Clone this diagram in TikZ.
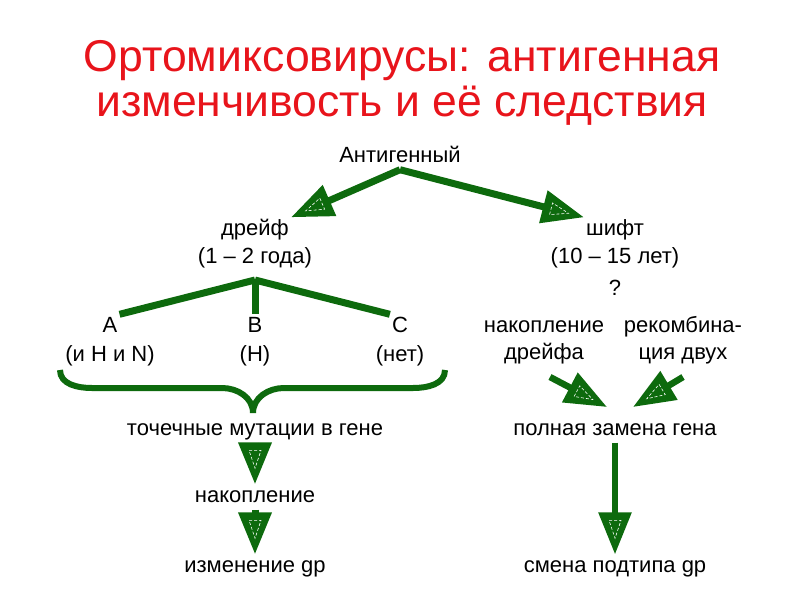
\documentclass[tikz,border=0pt]{standalone}
\usepackage{fontspec}
\setmainfont{Liberation Sans}
\usetikzlibrary{arrows.meta,positioning,decorations.markings}
\definecolor{avRed}{HTML}{E8141B}
\definecolor{avGreen}{HTML}{0D6A0D}
\tikzset{
  label text/.style={font=\fontsize{22}{26}\selectfont,text height=16pt,text depth=5pt,inner sep=2pt},
  title text/.style={font=\fontsize{44.5}{45}\selectfont,text=avRed,align=center,inner sep=0pt},
  green line/.style={draw=avGreen,line width=7pt},
  head arrow/.style={green line,-{Triangle[length=42pt,width=32pt]},
    postaction={decorate,decoration={markings,mark=at position 1 with {
      \draw[-,white,densely dashed,line width=0.6pt] (-34pt,-6pt) -- (-34pt,6pt) -- (-16pt,0pt) -- cycle;}}}}
}
\begin{document}
\begin{tikzpicture}[x=1pt,y=1pt]
\useasboundingbox (0,0) rectangle (800,-600);
\node[title text] (title) at (402,-83) {Ортомиксовирусы: антигенная\\изменчивость и её следствия};
% drift and shift
\node[label text] (ag) at (400,-157) {Антигенный};
\node[label text] (drift) at (255,-230) {дрейф};
\node[label text] (driftyr) at (255,-258) {(1 – 2 года)};
\node[label text] (shift) at (615,-230) {шифт};
\node[label text] (shiftyr) at (615,-258) {(10 – 15 лет)};
\node[label text] (quest) at (615,-290) {?};
\draw[head arrow] (ag.south) -- (drift.north east);
\draw[head arrow] (ag.south) -- (shift.north west);
% virus types
\node[label text] (typeA) at (110,-327) {A};
\node[label text] (typeAan) at (110,-356) {(и H и N)};
\node[label text] (typeB) at (255,-327) {B};
\node[label text] (typeBan) at (255,-356) {(H)};
\node[label text] (typeC) at (400,-327) {C};
\node[label text] (typeCan) at (400,-356) {(нет)};
\coordinate (fork) at (255,-280);
\draw[green line] (fork) -- (typeA.north east);
\draw[green line] (fork) -- (typeB.north);
\draw[green line] (fork) -- (typeC.north west);
% brace
\coordinate (braceL) at (60,-370);
\coordinate (braceTip) at (253,-413);
\coordinate (braceR) at (445,-370);
\draw[green line,line width=6pt] (braceL) to[out=-90,in=180] (92,-388) -- (222,-388)
  to[out=0,in=90] (braceTip) to[out=90,in=180] (284,-388) -- (413,-388) to[out=0,in=-90] (braceR);
% left column
\node[label text] (mut) at (255,-430) {точечные мутации в гене};
\node[label text] (acc) at (255,-497) {накопление};
\node[label text] (gp) at (255,-567) {изменение gp};
\draw[head arrow] (mut.south) -- (acc.north);
\draw[head arrow] (acc.south) -- (gp.north);
% right column
\node[label text] (accD) at (544,-327) {накопление};
\node[label text] (accDb) at (544,-354) {дрейфа};
\node[label text] (recomb) at (683,-327) {рекомбина-};
\node[label text] (recombb) at (683,-354) {ция двух};
\node[label text] (repl) at (615,-430) {полная замена гена};
\node[label text] (subtype) at (615,-567) {смена подтипа gp};
\coordinate (accDs) at (550,-377);
\coordinate (accDt) at (607,-407);
\coordinate (recombs) at (683,-377);
\coordinate (recombt) at (633,-407);
\draw[head arrow,line width=6.5pt] (accDs) -- (accDt);
\draw[head arrow,line width=6.5pt] (recombs) -- (recombt);
\draw[head arrow,line width=6pt] (repl.south) -- (subtype.north);
\end{tikzpicture}
\end{document}
